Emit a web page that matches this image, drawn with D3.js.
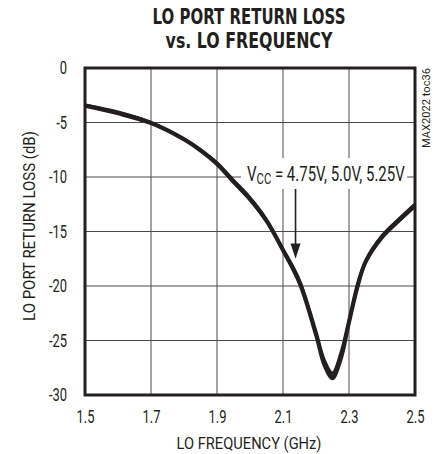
<!DOCTYPE html>
<html><head><meta charset="utf-8">
<script src="https://cdn.jsdelivr.net/npm/d3@7"></script>
<style>body{margin:0;background:#fff}svg{display:block}</style>
</head><body><svg id="c" width="436" height="454"></svg>
<script>
const freq  = [1.5,1.6,1.7,1.8,1.85,1.9,1.95,2.0,2.05,2.1,2.15,2.2,2.225,2.25,2.275,2.3,2.325,2.35,2.4,2.45,2.5];
const rl475 = [-3.4,-4.05,-5.0,-6.5,-7.5,-8.7,-10.3,-11.9,-13.9,-16.6,-19.5,-24.2,-26.8,-28.0,-26.2,-23.1,-19.9,-17.7,-15.4,-13.9,-12.5];
const rl500 = [-3.4,-4.1,-5.0,-6.5,-7.5,-8.75,-10.4,-12.0,-14.0,-16.7,-19.6,-24.4,-27.0,-28.3,-26.5,-23.3,-20.1,-17.8,-15.5,-14.0,-12.6];
const rl525 = [-3.5,-4.2,-5.1,-6.6,-7.6,-8.85,-10.5,-12.1,-14.1,-16.8,-19.8,-24.6,-27.3,-28.5,-26.8,-23.5,-20.3,-17.9,-15.6,-14.1,-12.7];
const xTicks = [1.5,1.7,1.9,2.1,2.3,2.5];
const yTicks = [0,-5,-10,-15,-20,-25,-30];

const ink = "#231f20";
const font = "Roboto, 'Liberation Sans', sans-serif";
const svg = d3.select("#c");
const m = {l:85, r:415, t:68, b:395};
const x = d3.scaleLinear().domain([1.5,2.5]).range([m.l,m.r]);
const y = d3.scaleLinear().domain([-30,0]).range([m.b,m.t]);

function fitText(sel, px, py, rot, w) {
  const nat = sel.node().getComputedTextLength();
  const k = w / nat;
  sel.attr("transform", `translate(${px},${py}) rotate(${rot}) scale(${k},1)`);
  return sel;
}

// title
fitText(svg.append("text").attr("text-anchor","middle")
  .attr("font-family","'DejaVu Sans', sans-serif").attr("font-weight","bold").attr("font-size",20.5).attr("fill",ink)
  .text("LO PORT RETURN LOSS"), 249, 24, 0, 193);
fitText(svg.append("text").attr("text-anchor","middle")
  .attr("font-family","'DejaVu Sans', sans-serif").attr("font-weight","bold").attr("font-size",20.5).attr("fill",ink)
  .text("vs. LO FREQUENCY"), 249, 48, 0, 167);

// grid
const g = svg.append("g");
g.selectAll("line.vx").data(xTicks.slice(1,-1)).enter().append("line")
  .attr("x1",d=>x(d)).attr("x2",d=>x(d)).attr("y1",m.t).attr("y2",m.b)
  .attr("stroke","#4a4a4a").attr("stroke-width",1);
g.selectAll("line.hy").data(yTicks.slice(1,-1)).enter().append("line")
  .attr("x1",m.l).attr("x2",m.r).attr("y1",d=>y(d)).attr("y2",d=>y(d))
  .attr("stroke","#4a4a4a").attr("stroke-width",1);

// axes
const kTick = 0.74;
const xAxis = svg.append("g").attr("transform",`translate(0,${m.b})`)
  .call(d3.axisBottom(x).tickValues(xTicks).tickSize(0).tickPadding(16).tickFormat(d3.format(".1f")));
xAxis.select(".domain").remove();
xAxis.selectAll("text").attr("font-family",font).attr("font-size",17.5).attr("fill",ink)
  .attr("transform",`scale(${kTick},1)`);
const yAxis = svg.append("g").attr("transform",`translate(${m.l},0)`)
  .call(d3.axisLeft(y).tickValues(yTicks).tickSize(0).tickPadding(18).tickFormat(d=>d===0?"0":"-"+Math.abs(d)));
yAxis.select(".domain").remove();
yAxis.selectAll("text").attr("font-family",font).attr("font-size",17.5).attr("fill",ink)
  .attr("x",0).attr("transform",`translate(-18,0) scale(${kTick},1)`);

// axis titles
fitText(svg.append("text").attr("text-anchor","middle")
  .attr("font-family",font).attr("font-size",17).attr("fill",ink).text("LO FREQUENCY (GHz)"), 249, 449, 0, 145);
fitText(svg.append("text").attr("text-anchor","middle")
  .attr("font-family",font).attr("font-size",17).attr("fill",ink).text("LO PORT RETURN LOSS (dB)"), 35, 226, -90, 190);
fitText(svg.append("text").attr("text-anchor","middle")
  .attr("font-family",font).attr("font-size",11).attr("fill",ink).text("MAX2022 toc36"), 430, 108, -90, 80);

// annotation background
const lblX = x(1.985), lblY = y(-10);
svg.append("rect").attr("x",lblX-4).attr("y",lblY-19).attr("width",166).attr("height",31).attr("fill","#fff");

// curves
const line = d3.line().x((d,i)=>x(freq[i])).y(d=>y(d)).curve(d3.curveCatmullRom.alpha(0.5));
[rl475, rl500, rl525].forEach(s=>{
  svg.append("path").attr("d",line(s)).attr("fill","none").attr("stroke",ink)
    .attr("stroke-width",3.2).attr("stroke-linejoin","round");
});

// label
const t = svg.append("text").attr("x",0).attr("y",0)
  .attr("font-family",font).attr("font-size",20).attr("fill",ink);
t.append("tspan").text("V");
t.append("tspan").attr("font-size",15).attr("dy",3).text("CC");
t.append("tspan").attr("dy",-3).text(" = 4.75V, 5.0V, 5.25V");
{
  const nat = t.node().getBBox().width;
  t.attr("transform",`translate(${lblX+2},${lblY+4}) scale(${158/nat},1)`);
}

// arrow
const ax = x(2.138);
svg.append("line").attr("x1",ax).attr("x2",ax).attr("y1",lblY+12).attr("y2",y(-16.3))
  .attr("stroke",ink).attr("stroke-width",1.6);
svg.append("path").attr("d",`M${ax-5},${y(-16.1)} L${ax+5},${y(-16.1)} L${ax},${y(-17.5)} Z`).attr("fill",ink);

// frame
svg.append("rect").attr("x",m.l).attr("y",m.t).attr("width",m.r-m.l).attr("height",m.b-m.t)
  .attr("fill","none").attr("stroke",ink).attr("stroke-width",3);
</script></body></html>
